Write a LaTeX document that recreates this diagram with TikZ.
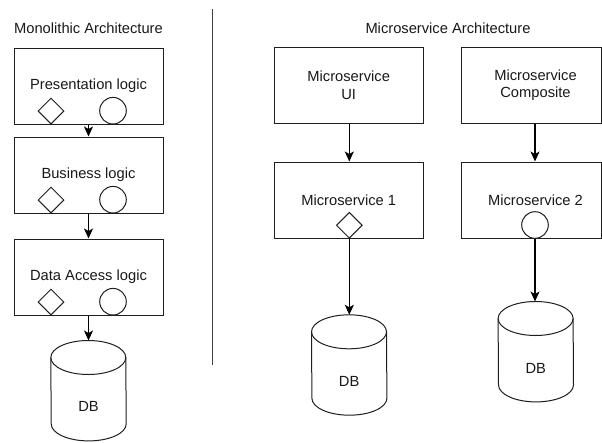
\documentclass[tikz,border=0pt]{standalone}
\usepackage{fontspec}
\setmainfont{Liberation Sans}
\usetikzlibrary{shapes.geometric,arrows.meta}

\colorlet{ink}{black!88}

% database cylinder drawn around an (invisible) rectangular node
\newcommand\dbcylinder[1]{%
  \draw[line width=1pt, draw=ink, fill=white]
    ([yshift=-17pt]#1.north west) arc[start angle=180, end angle=0, x radius=37.5pt, y radius=17pt]
    -- ([yshift=17pt]#1.south east) arc[start angle=0, end angle=-180, x radius=37.5pt, y radius=17pt]
    -- cycle;
  \draw[line width=1pt, draw=ink]
    ([yshift=-17pt]#1.north west) arc[start angle=180, end angle=360, x radius=37.5pt, y radius=17pt];}

\tikzset{
  every node/.style={font=\fontsize{14.7}{17.3}\selectfont, text=black!90},
  block/.style={draw=ink, line width=1pt, fill=white, minimum width=149pt,
                minimum height=76pt, inner sep=0pt, align=center},
  sideblock/.style={block, minimum width=140.5pt},
  portdiamond/.style={diamond, draw=ink, line width=1pt, fill=white, aspect=1,
                      minimum width=26pt, minimum height=26pt, inner sep=0pt},
  portcircle/.style={circle, draw=ink, line width=1pt, fill=white,
                     minimum size=26.6pt, inner sep=0pt},
  dbbox/.style={minimum width=75pt, minimum height=100pt, inner sep=0pt},
  arr/.style={line width=1.1pt, draw=black, -{Stealth[length=10pt, width=9pt, inset=2.5pt]}},
  divider/.style={line width=1.1pt, draw=black!75},
}

\begin{document}
\begin{tikzpicture}[x=1pt, y=-1pt]
  \useasboundingbox[fill=white] (0,0) rectangle (602,442);

  % ---------- monolithic side ----------
  \node (monoTitle) at (88.5,28) {Monolithic Architecture};

  \node[block] (pres) at (88.5,86) {Presentation logic};
  \node[portdiamond] (presD) at (51,111) {};
  \node[portcircle]  (presC) at (113,110.7) {};

  \node[block] (biz) at (88.5,175) {Business logic};
  \node[portdiamond] (bizD) at (51,200) {};
  \node[portcircle]  (bizC) at (113,199.7) {};

  \node[block] (data) at (88.5,277) {Data Access logic};
  \node[portdiamond] (dataD) at (51,302) {};
  \node[portcircle]  (dataC) at (113,301.7) {};

  \node[dbbox] (db0) at (88.5,390.7) {};
  \dbcylinder{db0}
  \node (db0text) at (88.5,406.7) {DB};

  \draw[arr] (pres.south) -- (biz.north);
  \draw[arr] (biz.south) -- (data.north);
  \draw[arr] (data.south) -- (db0.north);

  % ---------- divider ----------
  \coordinate (sepTop) at (212.7,9);
  \coordinate (sepBot) at (212.7,365);
  \draw[divider] (sepTop) -- (sepBot);

  % ---------- microservice side ----------
  \node (msTitle) at (448,28) {Microservice Architecture};

  \node[block] (ui) at (348.7,85.3) {Microservice\\UI};
  \node[sideblock] (comp) at (531.25,85.3) {};
  \node (compText) at (535.5,85.3) [align=center] {Microservice\\Composite};

  \node[block] (ms1) at (348.7,200) {Microservice 1};
  \node[portdiamond] (ms1D) at (349.3,225.3) {};

  \node[sideblock] (ms2) at (531.25,200) {};
  \node (ms2Text) at (535.5,200.5) {Microservice 2};
  \node[portcircle] (ms2C) at (535,225) {};

  \node[dbbox] (db1) at (349.2,365) {};
  \dbcylinder{db1}
  \node (db1text) at (349.2,381.7) {DB};

  \node[dbbox] (db2) at (535.8,351.7) {};
  \dbcylinder{db2}
  \node (db2text) at (535.8,368.3) {DB};

  \draw[arr] (ms1D |- ui.south) -- (ms1D |- ms1.north);
  \draw[arr] (ms2C |- comp.south) -- (ms2C |- ms2.north);
  \draw[arr] (ms1D.south) -- (ms1D |- db1.north);
  \draw[arr] (ms2C.south) -- (ms2C |- db2.north);
\end{tikzpicture}
\end{document}
